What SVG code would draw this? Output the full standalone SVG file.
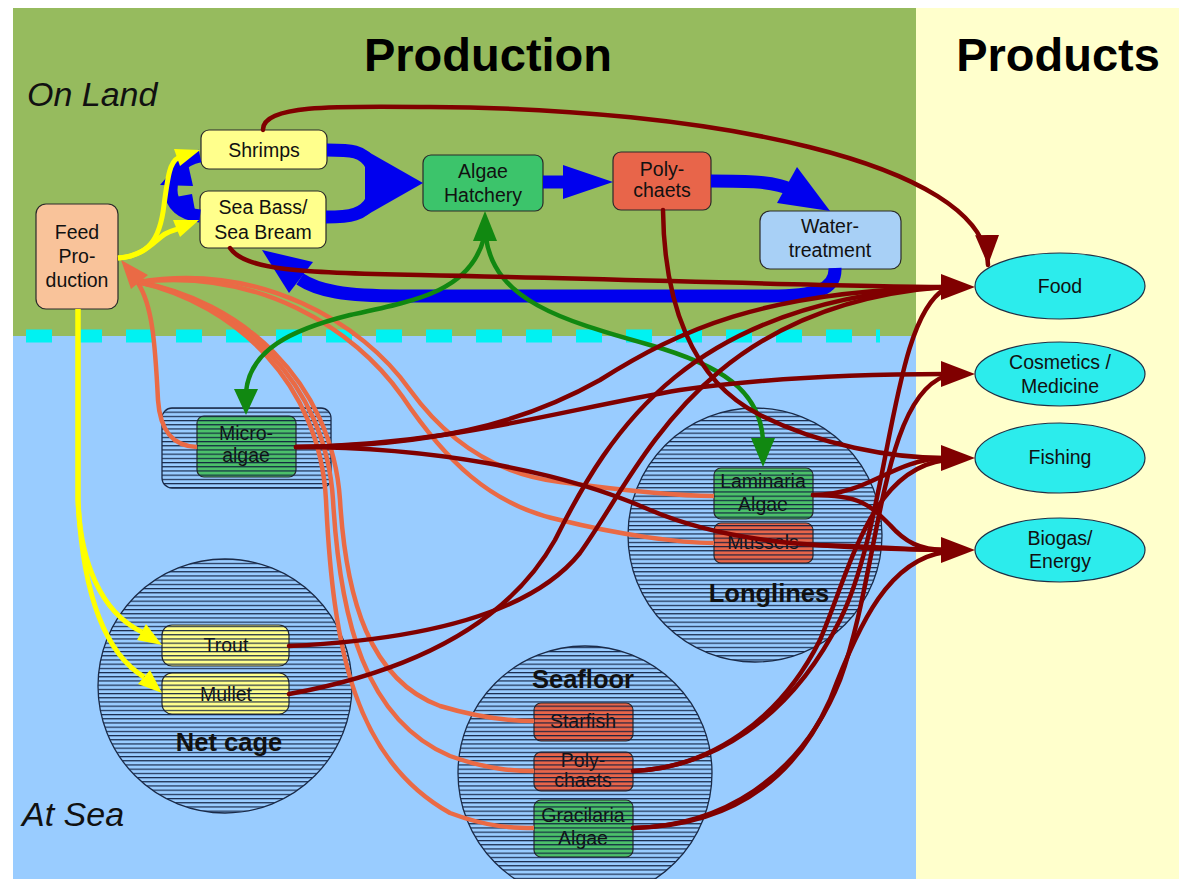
<svg xmlns="http://www.w3.org/2000/svg" width="1179" height="879" viewBox="0 0 1179 879">
<style>
.t{font-family:"Liberation Sans",Arial,sans-serif;font-size:19.5px;fill:#111;text-anchor:middle}
.tb{font-family:"Liberation Sans",Arial,sans-serif;font-size:25.5px;font-weight:bold;fill:#111;text-anchor:middle}
.title{font-family:"Liberation Sans",Arial,sans-serif;font-size:47px;font-weight:bold;fill:#000;text-anchor:middle}
.zone{font-family:"Liberation Sans",Arial,sans-serif;font-size:34px;font-style:italic;fill:#111}
.box{stroke:#2a2a2a;stroke-width:1.2}
.hatch{fill:url(#hatch);stroke:#1a2a48;stroke-width:1.3}
.ell{fill:#2cecec;stroke:#1f2f45;stroke-width:1.2}
.mr{fill:none;stroke:#800000;stroke-width:4.5;stroke-linecap:round}
.or{fill:none;stroke:#ea6a45;stroke-width:4.5}
.gr{fill:none;stroke:#118811;stroke-width:4.5}
.ye{fill:none;stroke:#ffff00;stroke-width:5}
.bl{fill:none;stroke:#0000ee;stroke-width:13}
</style>
<defs>
<pattern id="hatch" patternUnits="userSpaceOnUse" width="8" height="4.2">
<line x1="0" y1="0.6" x2="8" y2="0.6" stroke="#0b1a3a" stroke-width="1.1"/>
</pattern>
<marker id="amr" markerUnits="userSpaceOnUse" markerWidth="34" markerHeight="26" refX="30" refY="12" orient="auto">
<path d="M0,0 L30,12 L0,24 z" fill="#800000"/>
</marker>
</defs>

<rect x="0" y="0" width="1179" height="879" fill="#ffffff"/>
<rect x="13" y="8" width="903" height="328" fill="#96bb5e"/>
<rect x="13" y="336" width="903" height="543" fill="#99ccff"/>
<rect x="916" y="8" width="263" height="871" fill="#ffffcc"/>
<line x1="26" y1="336" x2="880" y2="336" stroke="#00f2f2" stroke-width="13" stroke-dasharray="26 24"/>

<text class="title" x="488" y="71">Production</text>
<text class="title" x="1058" y="71">Products</text>
<text class="zone" x="27" y="106">On Land</text>
<text class="zone" x="22" y="826">At Sea</text>

<g id="feed-production">
<rect class="box" x="36" y="204" width="82" height="105" rx="10" fill="#f9c39a"/>
<text class="t" x="77" y="239">Feed</text>
<text class="t" x="77" y="263">Pro-</text>
<text class="t" x="77" y="287">duction</text>
</g>
<g id="shrimps">
<rect class="box" x="201" y="130" width="126" height="39" rx="8" fill="#ffff8c"/>
<text class="t" x="264" y="157">Shrimps</text>
</g>
<g id="sea-bass">
<rect class="box" x="200" y="191" width="126" height="57" rx="8" fill="#ffff8c"/>
<text class="t" x="263" y="214">Sea Bass/</text>
<text class="t" x="263" y="239">Sea Bream</text>
</g>
<g id="algae-hatchery">
<rect class="box" x="423" y="155" width="120" height="56" rx="8" fill="#3cc46b"/>
<text class="t" x="483" y="178">Algae</text>
<text class="t" x="483" y="202">Hatchery</text>
</g>
<g id="polychaets-land">
<rect class="box" x="613" y="152" width="98" height="58" rx="8" fill="#e8654a"/>
<text class="t" x="662" y="176">Poly-</text>
<text class="t" x="662" y="197">chaets</text>
</g>
<g id="water-treatment">
<rect class="box" x="760" y="211" width="141" height="58" rx="10" fill="#a8d0f6"/>
<text class="t" x="830" y="233">Water-</text>
<text class="t" x="830" y="257">treatment</text>
</g>

<g id="food">
<ellipse class="ell" cx="1060" cy="286" rx="85" ry="33"/>
<text class="t" x="1060" y="293">Food</text>
</g>
<g id="cosmetics">
<ellipse class="ell" cx="1060" cy="374" rx="85" ry="32"/>
<text class="t" x="1060" y="369">Cosmetics /</text>
<text class="t" x="1060" y="393">Medicine</text>
</g>
<g id="fishing">
<ellipse class="ell" cx="1060" cy="458" rx="85" ry="35"/>
<text class="t" x="1060" y="464">Fishing</text>
</g>
<g id="biogas">
<ellipse class="ell" cx="1060" cy="550" rx="85" ry="32"/>
<text class="t" x="1060" y="545">Biogas/</text>
<text class="t" x="1060" y="568">Energy</text>
</g>

<g id="micro-algae">
<rect x="162" y="408" width="169" height="80" rx="10" fill="#99ccff"/>
<rect class="box" x="197" y="416" width="99" height="61" rx="7" fill="#4cc06a"/>
<text class="t" x="246" y="440">Micro-</text>
<text class="t" x="246" y="462">algae</text>
<rect class="hatch" x="162" y="408" width="169" height="80" rx="10"/>
</g>

<g id="longlines">
<circle cx="755" cy="535" r="127" fill="#99ccff"/>
<rect class="box" x="714" y="468" width="99" height="51" rx="7" fill="#4cc06a"/>
<text class="t" x="763" y="488">Laminaria</text>
<text class="t" x="763" y="511">Algae</text>
<rect class="box" x="714" y="523" width="99" height="40" rx="7" fill="#e8654a"/>
<text class="t" x="763" y="549">Mussels</text>
<circle class="hatch" cx="755" cy="535" r="127"/>
<text class="tb" x="769" y="602">Longlines</text>
</g>

<g id="net-cage">
<circle cx="225" cy="686" r="127" fill="#99ccff"/>
<rect class="box" x="162" y="625" width="127" height="41" rx="10" fill="#ffff8c"/>
<text class="t" x="226" y="652">Trout</text>
<rect class="box" x="162" y="673" width="127" height="41" rx="10" fill="#ffff8c"/>
<text class="t" x="226" y="701">Mullet</text>
<circle class="hatch" cx="225" cy="686" r="127"/>
<text class="tb" x="229" y="751">Net cage</text>
</g>

<g id="seafloor">
<circle cx="585" cy="773" r="127" fill="#99ccff"/>
<rect class="box" x="534" y="703" width="99" height="38" rx="7" fill="#e8654a"/>
<text class="t" x="583" y="728">Starfish</text>
<rect class="box" x="534" y="752" width="99" height="39" rx="7" fill="#e8654a"/>
<text class="t" x="583" y="767">Poly-</text>
<text class="t" x="583" y="787">chaets</text>
<rect class="box" x="534" y="800" width="99" height="57" rx="7" fill="#4cc06a"/>
<text class="t" x="583" y="822">Gracilaria</text>
<text class="t" x="583" y="845">Algae</text>
<circle class="hatch" cx="585" cy="773" r="127"/>
<text class="tb" x="583" y="688">Seafloor</text>
</g>

<g id="connectors">
<!-- blue water flows -->
<path class="bl" d="M327,150 C350,150 364,150 372,166"/>
<path class="bl" d="M326,217 C350,217 364,215 372,200"/>
<polygon points="365,150 423,183 365,216" fill="#0000ee"/>
<path class="bl" d="M543,182 L570,182"/>
<polygon points="563,165 613,182 563,199" fill="#0000ee"/>
<path class="bl" d="M711,181 C745,181 775,181 792,190"/>
<polygon points="830,211 797,167 777,203" fill="#0000ee"/>
<path class="bl" d="M835,268 C836,290 815,296 770,296 L400,296 C345,296 318,291 300,279"/>
<polygon points="262,250 313,262 289,293" fill="#0000ee"/>
<path class="bl" d="M200,156 C180,160 171,174 171,190 C171,205 182,214 200,216"/>
<polygon points="186,155 160,185 193,186" fill="#0000ee"/>
<polygon points="196,216 170,198 192,194" fill="#0000ee"/>

<!-- orange: to feed production -->
<path class="or" d="M197,447 C172,446 160,430 158,400 C155,340 152,305 138,283"/>
<path class="or" d="M138,282 C240,300 332,380 340,500 C346,600 370,680 440,706 C480,718 510,721 534,721"/>
<path class="or" d="M138,282 C238,302 326,382 333,500 C340,620 365,720 450,756 C490,770 515,771 534,771"/>
<path class="or" d="M138,282 C236,304 320,384 326,500 C333,650 355,760 450,813 C490,828 515,828 534,828"/>
<path class="or" d="M138,282 C260,262 362,322 410,390 C450,445 500,475 560,482 C620,490 680,496 714,496"/>
<path class="or" d="M138,282 C258,268 354,328 402,396 C445,460 490,505 560,520 C620,535 680,543 714,543"/>
<polygon points="121,260 148,275 131,289" fill="#ea6a45"/>

<!-- yellow: feed -->
<path class="ye" d="M118,258 C148,256 160,240 164,205 C168,175 170,162 178,158"/>
<path class="ye" d="M118,258 C145,256 155,240 165,234 C170,231 175,230 178,229"/>
<path class="ye" d="M78,309 L78,500 C80,560 100,612 142,632"/>
<path class="ye" d="M78,309 L78,500 C82,580 100,650 144,677"/>
<polygon points="200,150 174,149 180,166" fill="#ffff00"/>
<polygon points="199,220 173,220 180,237" fill="#ffff00"/>
<polygon points="162,645 137,640 146,624" fill="#ffff00"/>
<polygon points="162,693 138,684 150,670" fill="#ffff00"/>

<!-- green: algae hatchery -->
<path class="gr" d="M484,238 C470,290 420,300 350,315 C290,330 250,350 246,392"/>
<path class="gr" d="M486,238 C495,300 560,320 650,345 C720,365 760,390 763,440"/>
<polygon points="485,211 473,241 497,241" fill="#118811"/>
<polygon points="246,415 234,389 258,389" fill="#118811"/>
<polygon points="763,467 751,438 775,438" fill="#118811"/>

<!-- maroon: products -->
<path class="mr" d="M263,130 C262,104 340,106 430,107 C700,108 985,160 988,265" marker-end="url(#amr)"/>
<path class="mr" d="M230,248 C245,270 300,273 420,275 C620,279 820,286 945,287"/>
<path class="mr" d="M663,210 C664,300 690,380 760,415 C820,445 890,458 945,458"/>
<path class="mr" d="M296,447 C430,446 520,425 600,380 C680,330 760,292 945,287"/>
<path class="mr" d="M296,447 C450,445 560,410 680,390 C780,376 880,374 945,374"/>
<path class="mr" d="M296,447 C430,447 560,470 650,510 C720,540 800,548 945,550"/>
<path class="mr" d="M289,646 C420,640 530,615 580,553 C640,470 700,305 945,287"/>
<path class="mr" d="M289,694 C420,670 510,620 555,540 C610,430 690,300 945,287"/>
<path class="mr" d="M813,495 C870,495 890,460 945,458"/>
<path class="mr" d="M813,495 C860,495 870,505 890,525 C905,542 920,550 945,550"/>
<path class="mr" d="M813,545 C860,545 900,550 945,550"/>
<path class="mr" d="M633,771 C710,768 790,720 840,620 C890,520 890,320 945,289"/>
<path class="mr" d="M633,771 C710,768 780,720 820,640 C850,570 870,470 945,460"/>
<path class="mr" d="M633,828 C720,826 800,780 840,680 C880,570 880,400 945,376"/>
<path class="mr" d="M633,828 C720,826 790,790 830,700 C860,620 890,560 945,552"/>
<polygon points="975,287 941,274 941,300" fill="#800000"/>
<polygon points="975,374 941,361 941,387" fill="#800000"/>
<polygon points="975,458 941,445 941,471" fill="#800000"/>
<polygon points="975,550 941,537 941,563" fill="#800000"/>
</g>
</svg>
